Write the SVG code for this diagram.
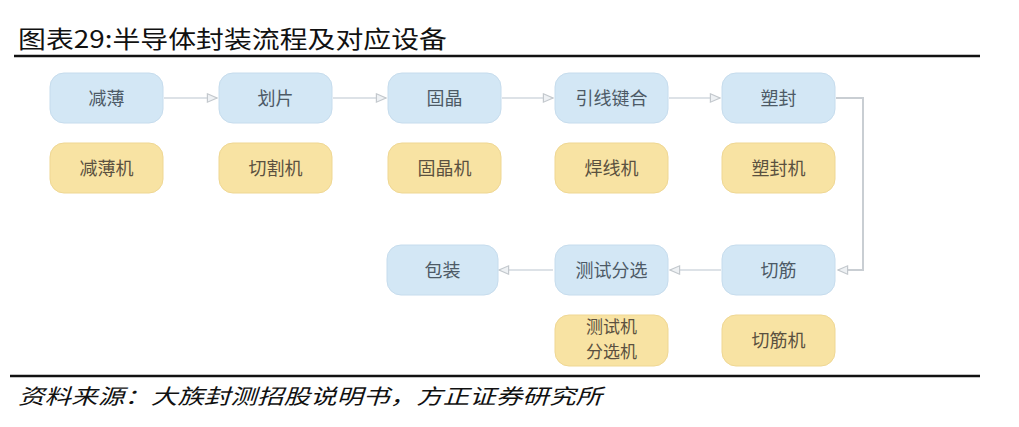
<svg xmlns="http://www.w3.org/2000/svg" width="1019" height="427" viewBox="0 0 1019 427">
<style>
.bg{fill:#ffffff}
.step rect{fill:#d3e7f5;stroke:#c6dced;stroke-width:1}
.equip rect{fill:#f8e3a3;stroke:#efd793;stroke-width:1}
.step text{font-family:"Noto Sans CJK SC",sans-serif;font-size:18px;fill:#4d5a66;text-anchor:middle}
.equip text{font-family:"Noto Sans CJK SC",sans-serif;font-size:18px;fill:#5b5140;text-anchor:middle}
.equip text.two{font-size:17px}
.title{font-family:"Noto Sans CJK SC",sans-serif;font-size:24px;fill:#111111}
.source{font-family:"Noto Sans CJK SC",sans-serif;font-size:21px;fill:#111111;font-style:italic}
.conn path{fill:none;stroke:#dde2e7;stroke-width:2}
.conn path.down{stroke:#c9ced3}
</style>
<defs>
<marker id="arr2" viewBox="0 0 10 10" refX="9" refY="5" markerWidth="12" markerHeight="12" orient="auto" markerUnits="userSpaceOnUse">
<path d="M1,1.5 L9,5 L1,8.5 Z" fill="#eef1f4" stroke="#c3c8cd" stroke-width="1"/>
</marker>
</defs>
<rect class="bg" x="0" y="0" width="1019" height="427"/>
<text class="title" x="18" y="48" textLength="429" lengthAdjust="spacingAndGlyphs">图表29:半导体封装流程及对应设备</text>
<line x1="14" y1="56" x2="980" y2="56" stroke="#111111" stroke-width="2.5"/>

<g class="conn" id="connectors">
<path d="M164,98 H217" marker-end="url(#arr2)"/>
<path d="M333,98 H386" marker-end="url(#arr2)"/>
<path d="M502,98 H553" marker-end="url(#arr2)"/>
<path d="M669,98 H720" marker-end="url(#arr2)"/>
<path class="down" d="M836,98 H863 V270 H838" marker-end="url(#arr2)"/>
<path d="M721,270 H670" marker-end="url(#arr2)"/>
<path d="M553,270 H499" marker-end="url(#arr2)"/>
</g>

<g class="step" id="n-jianbo"><rect x="50" y="73" width="113" height="50" rx="14"/><text x="106.5" y="104.5">减薄</text></g>
<g class="step" id="n-huapian"><rect x="219" y="73" width="113" height="50" rx="14"/><text x="275.5" y="104.5">划片</text></g>
<g class="step" id="n-gujing"><rect x="388" y="73" width="113" height="50" rx="14"/><text x="444.5" y="104.5">固晶</text></g>
<g class="step" id="n-yinxian"><rect x="555" y="73" width="113" height="50" rx="14"/><text x="611.5" y="104.5">引线键合</text></g>
<g class="step" id="n-sufeng"><rect x="722" y="73" width="113" height="50" rx="14"/><text x="778.5" y="104.5">塑封</text></g>

<g class="equip" id="e-jianboji"><rect x="50" y="143" width="113" height="50" rx="14"/><text x="106.5" y="174.5">减薄机</text></g>
<g class="equip" id="e-qiegeji"><rect x="219" y="143" width="113" height="50" rx="14"/><text x="275.5" y="174.5">切割机</text></g>
<g class="equip" id="e-gujingji"><rect x="388" y="143" width="113" height="50" rx="14"/><text x="444.5" y="174.5">固晶机</text></g>
<g class="equip" id="e-hanxianji"><rect x="555" y="143" width="113" height="50" rx="14"/><text x="611.5" y="174.5">焊线机</text></g>
<g class="equip" id="e-sufengji"><rect x="722" y="143" width="113" height="50" rx="14"/><text x="778.5" y="174.5">塑封机</text></g>

<g class="step" id="n-baozhuang"><rect x="387" y="245" width="111" height="50" rx="14"/><text x="442.5" y="276.5">包装</text></g>
<g class="step" id="n-ceshi"><rect x="555" y="245" width="113" height="50" rx="14"/><text x="611.5" y="276.5">测试分选</text></g>
<g class="step" id="n-qiejin"><rect x="722" y="245" width="113" height="50" rx="14"/><text x="778.5" y="276.5">切筋</text></g>

<g class="equip" id="e-ceshiji"><rect x="555" y="315" width="113" height="51" rx="14"/><text class="two" x="611.5" y="333">测试机</text><text class="two" x="611.5" y="358">分选机</text></g>
<g class="equip" id="e-qiejinji"><rect x="722" y="315" width="113" height="51" rx="14"/><text x="778.5" y="347">切筋机</text></g>

<line x1="10" y1="376" x2="980" y2="376" stroke="#111111" stroke-width="2.5"/>
<text class="source" x="18" y="404" textLength="584" lengthAdjust="spacingAndGlyphs">资料来源：大族封测招股说明书，方正证券研究所</text>
</svg>
